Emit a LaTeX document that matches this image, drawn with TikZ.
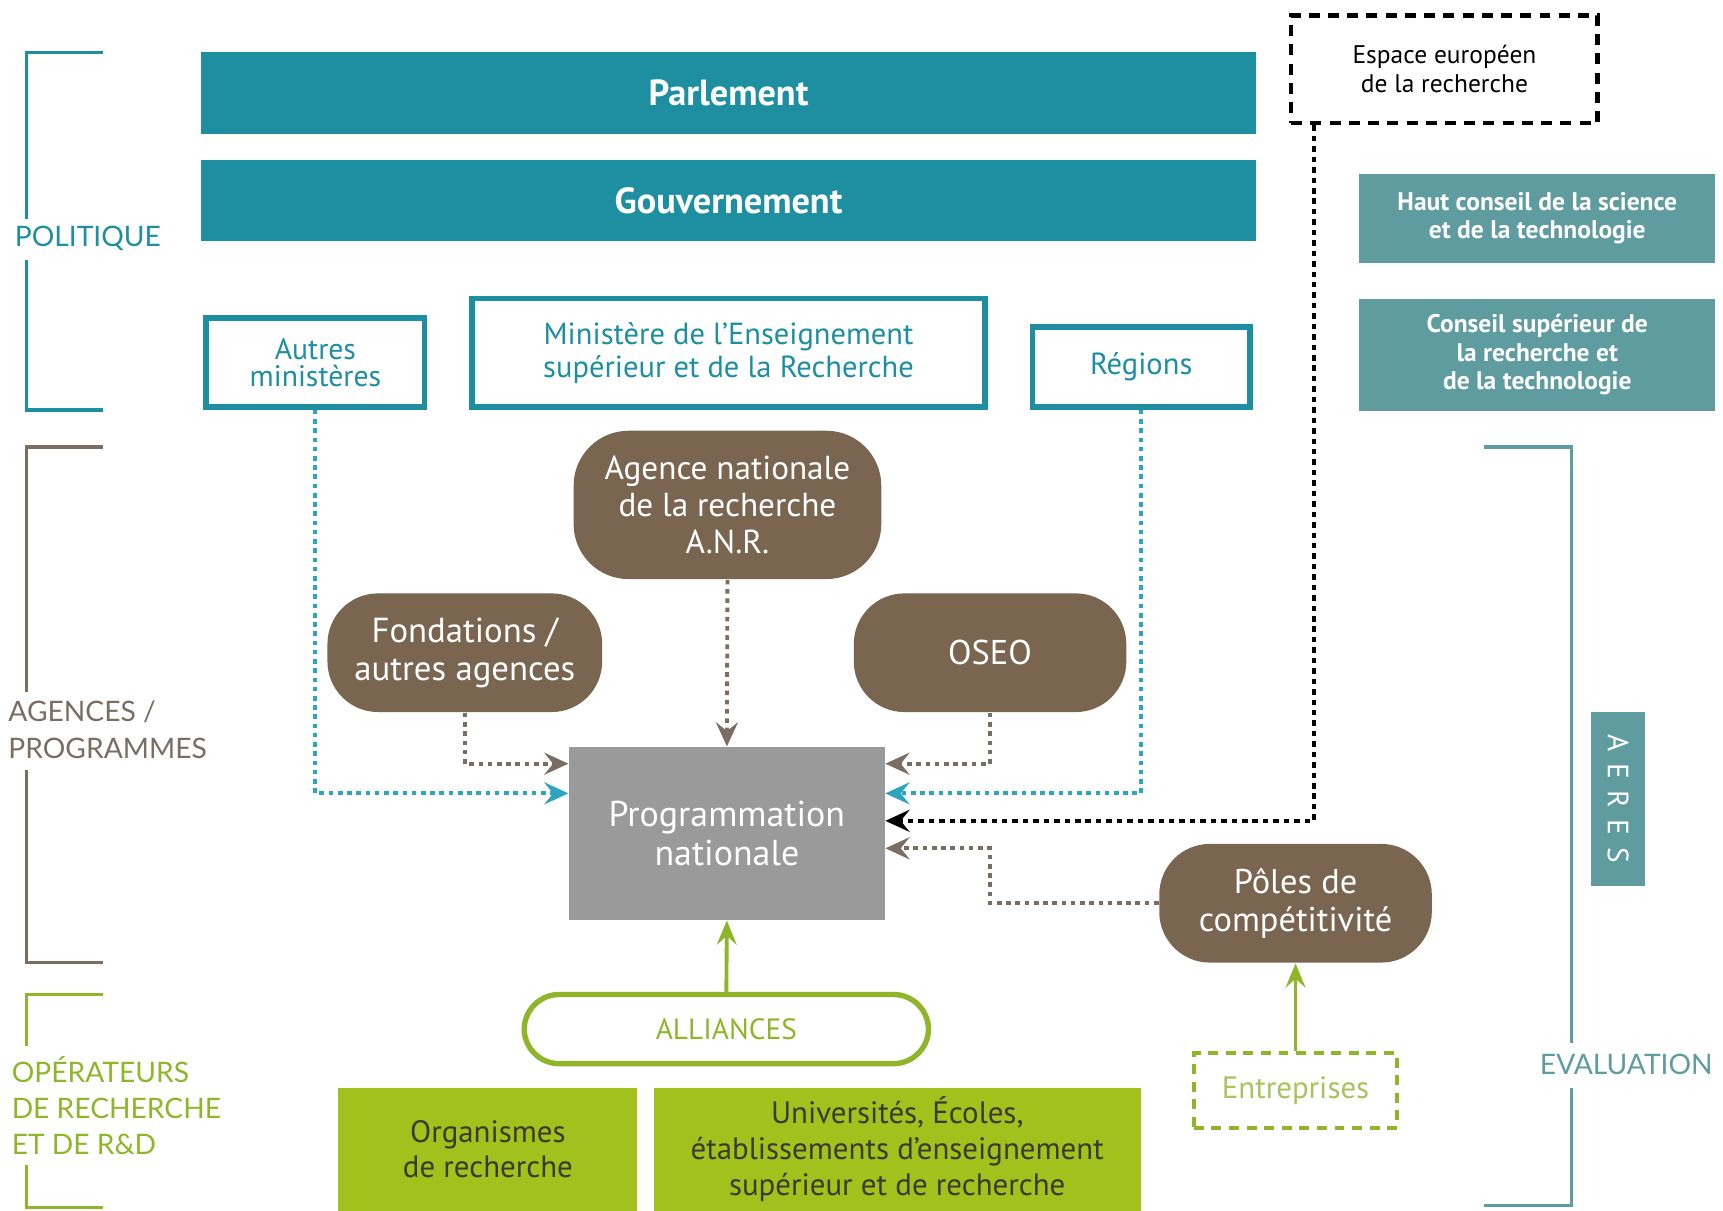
\documentclass[tikz,border=0pt]{standalone}
\usepackage{fontspec}
\setmainfont{PT Sans}
\newfontfamily\catfont{Lato}
\usetikzlibrary{arrows.meta}
\definecolor{tealA}{HTML}{1E8FA0}
\definecolor{tealB}{HTML}{5E9CA0}
\definecolor{tealC}{HTML}{2BA6BE}
\definecolor{brownA}{HTML}{7A6650}
\definecolor{brownL}{HTML}{7A6E64}
\definecolor{grayA}{HTML}{9A9A9A}
\definecolor{greenA}{HTML}{A2C11C}
\definecolor{greenB}{HTML}{8FB52A}
\definecolor{greenT}{HTML}{A9C25E}
\definecolor{darkT}{HTML}{3B3A2E}
\newcommand{\fsz}[2]{\fontsize{#1}{#2}\selectfont}
\tikzset{
  box/.style={inner sep=0pt, align=center, anchor=center},
  barbox/.style={box, fill=tealA, text=white, font=\bfseries\fsz{9.4}{10}},
  tealbox/.style={box, draw=tealA, line width=1.4pt, fill=white, text=tealA},
  grbox/.style={box, fill=tealB, text=white, font=\bfseries\fsz{6.6}{7.4}},
  brbox/.style={box, fill=brownA, text=white, rounded corners=4.6mm},
  catline/.style={line width=0.9pt, line cap=rect},
  cat/.style={font=\catfont\fsz{7.3}{9.4}, inner sep=0pt, align=left},
  tdot/.style={draw=tealC, line width=1pt, dash pattern=on 0.42mm off 0.42mm, -{Stealth[length=2.2mm,width=2mm,inset=0.8mm]}},
  bdot/.style={draw=brownL, line width=1pt, dash pattern=on 0.42mm off 0.42mm, -{Stealth[length=2.2mm,width=2mm,inset=0.8mm]}},
  kdot/.style={draw=black, line width=1.15pt, dash pattern=on 0.5mm off 0.45mm, -{Stealth[length=2.2mm,width=2mm,inset=0.8mm]}},
  garrow/.style={draw=greenB, line width=1pt, -{Stealth[length=2.2mm,width=1.8mm,inset=0.8mm]}},
}
\begin{document}
\begin{tikzpicture}[x=0.1mm,y=-0.1mm]
\useasboundingbox (0,0) rectangle (1568,1102);
% category brackets
\draw[catline, draw=tealA] (92,48) -- (24,48) -- (24,198);
\draw[catline, draw=tealA] (24,238) -- (24,373) -- (92,373);
\node[cat, text=tealA] (polit) at (80,217) {POLITIQUE};
\draw[catline, draw=brownL] (92,407) -- (24,407) -- (24,628);
\draw[catline, draw=brownL] (24,702) -- (24,876) -- (92,876);
\node[cat, text=brownL, anchor=west] (agen) at (7,664) {AGENCES /\\PROGRAMMES};
\draw[catline, draw=greenB] (92,905) -- (24,905) -- (24,950);
\draw[catline, draw=greenB] (24,1062) -- (24,1099) -- (92,1099);
\node[cat, text=greenB, anchor=west] (oper) at (10,1006) {OPÉRATEURS\\DE RECHERCHE\\ET DE R\&D};
\draw[catline, draw=tealB] (1352,407) -- (1430,407) -- (1430,948);
\draw[catline, draw=tealB] (1430,992) -- (1430,1097) -- (1352,1097);
\node[cat, text=tealB] (evalu) at (1480,969) {EVALUATION};
% politique
\node[barbox, minimum width=96mm, minimum height=7.5mm] (parl) at (663,84.5) {Parlement};
\node[barbox, minimum width=96mm, minimum height=7.3mm] (gouv) at (663,182.5) {Gouvernement};
\node[tealbox, minimum width=19.9mm, minimum height=8.1mm, font=\fsz{7.7}{6.9}] (autres) at (287,330) {Autres\\ministères};
\node[tealbox, minimum width=46.7mm, minimum height=9.9mm, font=\fsz{7.9}{8.6}] (minis) at (663,321) {Ministère de l'Enseignement\\supérieur et de la Recherche};
\node[tealbox, minimum width=19.8mm, minimum height=7.3mm, font=\fsz{7.9}{9}] (regions) at (1038.5,334) {Régions};
\node[box, draw=black, line width=1.2pt, dash pattern=on 1mm off 0.75mm, minimum width=27.9mm, minimum height=9.8mm, font=\fsz{6.6}{7.4}] (espace) at (1314.5,63) {Espace européen\\de la recherche};
\node[grbox, minimum width=32.4mm, minimum height=8.1mm] (haut) at (1399,198.5) {Haut conseil de la science\\et de la technologie};
\node[grbox, minimum width=32.4mm, minimum height=10.2mm] (conseil) at (1399,323) {Conseil supérieur de\\la recherche et\\de la technologie};
\node[box, fill=tealB, text=white, minimum width=4.9mm, minimum height=15.8mm] (aeres) at (1472.5,727) {};
\node[rotate=-90, text=white, font=\fsz{7.6}{8}, inner sep=0pt] (aerestxt) at (aeres.center) {A\hspace{1.05mm}E\hspace{1.05mm}R\hspace{1.05mm}E\hspace{1.05mm}S};
% agences
\node[brbox, minimum width=28mm, minimum height=13.5mm, rounded corners=5mm, font=\fsz{8.6}{9.7}] (anr) at (662,459.5) {Agence nationale\\de la recherche\\A.N.R.};
\node[brbox, minimum width=25mm, minimum height=10.8mm, font=\fsz{9}{10}] (fond) at (423,594) {Fondations /\\autres agences};
\node[brbox, minimum width=24.8mm, minimum height=10.8mm, font=\fsz{8.9}{10}] (oseo) at (901,594) {OSEO};
\node[box, fill=grayA, text=white, minimum width=28.7mm, minimum height=15.7mm, font=\fsz{9.3}{10}] (prog) at (661.5,758.5) {Programmation\\nationale};
\node[brbox, minimum width=24.8mm, minimum height=10.8mm, font=\fsz{8.9}{9.7}] (poles) at (1179,822) {Pôles de\\compétitivité};
% operateurs
\node[box, draw=greenB, line width=1.4pt, fill=white, text=greenB, rounded corners=3.2mm, minimum width=36.8mm, minimum height=6.3mm, font=\fsz{7.6}{9}] (alli) at (661,936.5) {ALLIANCES};
\node[box, draw=greenB, line width=1.1pt, dash pattern=on 0.9mm off 0.7mm, text=greenT, minimum width=18.5mm, minimum height=6.8mm, font=\fsz{8}{9}] (entr) at (1179,992.5) {Entreprises};
\node[box, fill=greenA, text=darkT, minimum width=27.2mm, minimum height=11.2mm, font=\fsz{8}{9.1}] (orga) at (444,1046) {Organismes\\de recherche};
\node[box, fill=greenA, text=darkT, minimum width=44.3mm, minimum height=11.2mm, font=\fsz{8}{9.3}] (univ) at (816.5,1046) {Universités, Écoles,\\établissements d'enseignement\\supérieur et de recherche};
% connectors
\draw[tdot] (autres.south) |- (prog.west |- 0,722);
\draw[tdot] (regions.south) |- (prog.east |- 0,722);
\draw[bdot] (fond.south) |- (prog.west |- 0,695);
\draw[bdot] (oseo.south) |- (prog.east |- 0,695);
\draw[bdot] (anr.south) -- (prog.north);
\draw[kdot] ([xshift=2.3mm]espace.south west) |- (prog.east |- 0,747);
\draw[bdot] (poles.west) -- (poles.west -| oseo.south) |- (prog.east |- 0,772);
\draw[garrow] (alli.north) -- (prog.south);
\draw[garrow] (entr.north) -- (poles.south);
\end{tikzpicture}
\end{document}
